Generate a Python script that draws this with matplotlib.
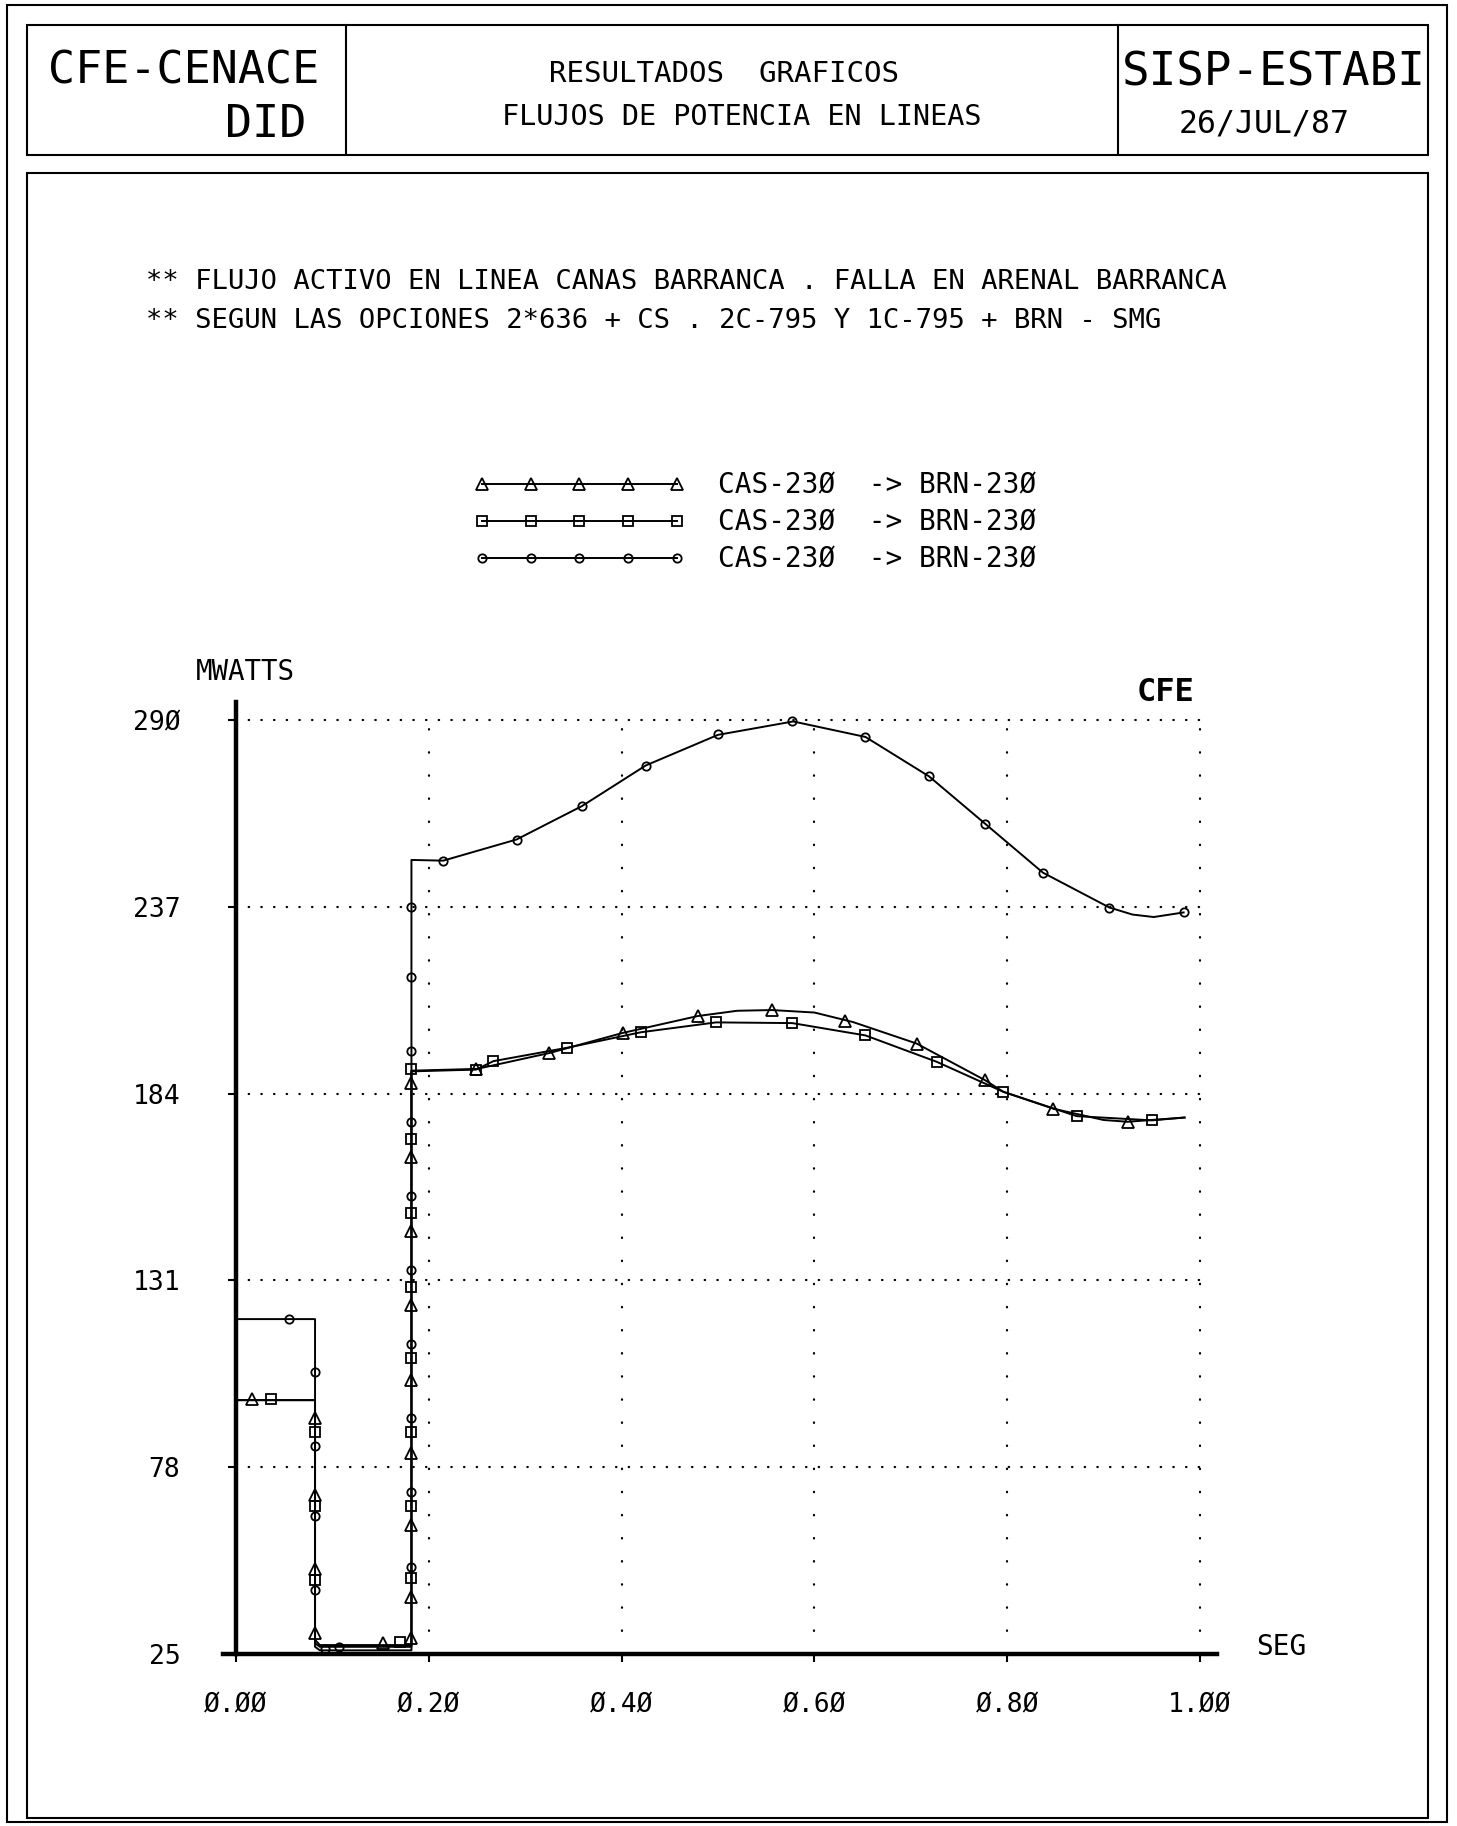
import matplotlib
matplotlib.use('Agg')
import matplotlib.pyplot as plt
from matplotlib.lines import Line2D
from matplotlib.patches import Rectangle
from matplotlib.ticker import FuncFormatter

W, H = 1457, 1826
MONO = 'DejaVu Sans Mono'

# axis ticks
x_ticks = [0.0, 0.2, 0.4, 0.6, 0.8, 1.0]
y_ticks = [25, 78, 131, 184, 237, 290]

legend_labels = ['CAS-23Ø  -> BRN-23Ø', 'CAS-23Ø  -> BRN-23Ø', 'CAS-23Ø  -> BRN-23Ø']

# series 1 (triangles): line vertices and marker points
s1_x = [0.0, 0.082, 0.082, 0.087, 0.182, 0.182, 0.25, 0.325, 0.401, 0.479, 0.52,
        0.556, 0.60, 0.640, 0.706, 0.777, 0.796, 0.848, 0.90, 0.925, 0.984]
s1_y = [97, 97, 29, 27.5, 27.5, 190.5, 191, 195.5, 201.2, 206, 207.5,
        207.7, 207, 204.3, 198.2, 187.8, 184.5, 179.7, 176.5, 176, 177.2]
s1_mx = [0.017, 0.082, 0.082, 0.082, 0.082, 0.152, 0.182, 0.182, 0.182, 0.182, 0.182,
         0.182, 0.182, 0.182, 0.182, 0.249, 0.325, 0.401, 0.479, 0.556, 0.632,
         0.706, 0.777, 0.848, 0.925]
s1_my = [97.3, 92, 70, 49, 31, 28, 29.5, 41, 61.6, 82, 102.7,
         124, 145, 166, 187, 191, 195.5, 201.2, 206, 207.7, 204.5,
         198.2, 187.8, 179.7, 176]

# series 2 (squares)
s2_x = [0.0, 0.082, 0.082, 0.087, 0.182, 0.182, 0.249, 0.267, 0.3435, 0.420, 0.498,
        0.577, 0.653, 0.727, 0.796, 0.872, 0.950, 0.984]
s2_y = [97, 97, 28, 27, 27, 190.3, 190.8, 193.2, 197, 201.4, 204.2,
        204, 200.5, 193, 184.5, 177.6, 176.4, 177.2]
s2_mx = [0.036, 0.082, 0.082, 0.082, 0.170, 0.182, 0.182, 0.182, 0.182, 0.182,
         0.182, 0.182, 0.182, 0.249, 0.267, 0.3435, 0.420, 0.498, 0.577, 0.653,
         0.727, 0.796, 0.872, 0.950]
s2_my = [97.3, 88, 67, 46, 28.5, 46.5, 67, 88, 109, 129,
         150, 171, 191, 190.8, 193.2, 197, 201.4, 204.2, 204, 200.5,
         193, 184.5, 177.6, 176.4]

# series 3 (small circles)
s3_x = [0.0, 0.082, 0.082, 0.087, 0.182, 0.182, 0.215, 0.291, 0.359, 0.425, 0.50,
        0.578, 0.653, 0.719, 0.777, 0.837, 0.906, 0.93, 0.952, 0.983]
s3_y = [120, 120, 27, 26, 26, 250.3, 250.1, 256.1, 265.6, 277.1, 285.8,
        289.6, 285.2, 274, 260.6, 246.7, 236.8, 234.8, 234.1, 235.4]
s3_mx = [0.055, 0.082, 0.082, 0.082, 0.082, 0.092, 0.107, 0.182, 0.182, 0.182, 0.182,
         0.182, 0.182, 0.182, 0.182, 0.182, 0.182, 0.215, 0.291, 0.359, 0.425,
         0.50, 0.577, 0.652, 0.719, 0.777, 0.837, 0.906, 0.983]
s3_my = [120, 105, 84, 64, 43, 26.5, 27, 49.6, 71, 92, 113,
         134, 155, 176, 196, 217, 237, 250.1, 256.1, 265.6, 277.1,
         286, 289.7, 285.2, 274, 260.6, 246.7, 236.8, 235.4]


def px_box(x0, y0, x1, y1):
    # pixel box (top-left origin) -> figure fraction rectangle
    return (x0 / W, 1 - y1 / H), (x1 - x0) / W, (y1 - y0) / H


fig = plt.figure(figsize=(W / 100, H / 100), dpi=100)
fig.patch.set_facecolor('white')

# frames
for x0, y0, x1, y1 in [(7, 5, 1447, 1822), (27, 25, 1428, 155), (27, 173, 1428, 1818)]:
    xy, w, h = px_box(x0, y0, x1, y1)
    fig.add_artist(Rectangle(xy, w, h, transform=fig.transFigure, fill=False,
                             lw=1.5, ec='black'))
for xd in (346, 1118):
    fig.add_artist(Line2D([xd / W, xd / W], [1 - 155 / H, 1 - 25 / H],
                          transform=fig.transFigure, lw=1.5, color='black'))

# header texts
fig.text(184 / W, 1 - 83 / H, 'CFE-CENACE', family=MONO, fontsize=32.5, ha='center', va='baseline')
fig.text(266 / W, 1 - 137 / H, 'DID', family=MONO, fontsize=32.5, ha='center', va='baseline')
fig.text(724 / W, 1 - 82 / H, 'RESULTADOS  GRAFICOS', family=MONO, fontsize=21, ha='center', va='baseline')
fig.text(742 / W, 1 - 125 / H, 'FLUJOS DE POTENCIA EN LINEAS', family=MONO, fontsize=20.5, ha='center', va='baseline')
fig.text(1274 / W, 1 - 86 / H, 'SISP-ESTABI', family=MONO, fontsize=33, ha='center', va='baseline')
fig.text(1264 / W, 1 - 133 / H, '26/JUL/87', family=MONO, fontsize=22.7, ha='center', va='baseline')

fig.text(146 / W, 1 - 289 / H,
         '** FLUJO ACTIVO EN LINEA CANAS BARRANCA . FALLA EN ARENAL BARRANCA',
         family=MONO, fontsize=19.6, ha='left', va='baseline')
fig.text(146 / W, 1 - 328 / H,
         '** SEGUN LAS OPCIONES 2*636 + CS . 2C-795 Y 1C-795 + BRN - SMG',
         family=MONO, fontsize=19.6, ha='left', va='baseline')

# plot area
ax = fig.add_axes([0.09581, 0.07497, 0.8072, 0.5500])
ax.set_xlim(-0.1, 1.12)
ax.set_ylim(15, 300)
ax.patch.set_alpha(0)

# dotted grid
for yv in y_ticks[1:]:
    ax.plot([0, x_ticks[-1]], [yv, yv], color='black', lw=1.6,
            linestyle=(0, (0.2, 5.5)), dash_capstyle='round', zorder=1)
for xv in x_ticks[1:]:
    ax.plot([xv, xv], [y_ticks[0], y_ticks[-1]], color='black', lw=1.6,
            linestyle=(0, (0.2, 10.2)), dash_capstyle='round', zorder=1)

# series
mk = dict(color='black', mfc='none', mew=1.3, linestyle='none', zorder=4)
ax.plot(s1_x, s1_y, color='black', lw=1.4, zorder=3)
ax.plot(s2_x, s2_y, color='black', lw=1.4, zorder=3)
ax.plot(s3_x, s3_y, color='black', lw=1.4, zorder=3)
ax.plot(s1_mx, s1_my, marker='^', ms=9, **mk)
ax.plot(s2_mx, s2_my, marker='s', ms=7.5, **mk)
ax.plot(s3_mx, s3_my, marker='o', ms=6, **mk)

# axes lines
for s in ('top', 'right'):
    ax.spines[s].set_visible(False)
ax.spines['left'].set_position(('data', 0))
ax.spines['bottom'].set_position(('data', y_ticks[0]))
ax.spines['left'].set_bounds(y_ticks[0], 295)
ax.spines['bottom'].set_bounds(-0.0135, 1.018)
ax.spines['left'].set_linewidth(3.2)
ax.spines['bottom'].set_linewidth(3.2)

ax.set_xticks(x_ticks)
ax.set_yticks(y_ticks)
ax.xaxis.set_major_formatter(FuncFormatter(lambda v, p: f'{v:.2f}'.replace('0', 'Ø')))
ax.yaxis.set_major_formatter(FuncFormatter(lambda v, p: f'{v:.0f}'.replace('0', 'Ø')))
ax.tick_params(axis='x', direction='out', length=6, width=1.5, pad=22, labelsize=19)
ax.tick_params(axis='y', direction='out', length=6, width=1.5, pad=34, labelsize=19)
for lab in ax.get_xticklabels() + ax.get_yticklabels():
    lab.set_family(MONO)

ax.text(-0.0415, 303.6, 'MWATTS', family=MONO, fontsize=19.8, ha='left', va='center')
ax.text(0.994, 297.7, 'CFE', family=MONO, fontsize=23, fontweight='bold', ha='right', va='center')
ax.text(1.058, 27, 'SEG', family=MONO, fontsize=20, ha='left', va='center')

# legend
handles = [Line2D([], [], color='black', lw=1.4, marker=m, ms=s, mfc='none', mew=1.3)
           for m, s in (('^', 9), ('s', 7.5), ('o', 6))]
ax.legend(handles, legend_labels, numpoints=5, handlelength=7.6, handletextpad=1.19,
          labelspacing=0.32, borderpad=0, frameon=False, loc='upper left',
          bbox_to_anchor=(460 / W, 1 - 458 / H), bbox_transform=fig.transFigure,
          prop={'family': MONO, 'size': 20})

fig.savefig('out.png', dpi=100, facecolor='white')
